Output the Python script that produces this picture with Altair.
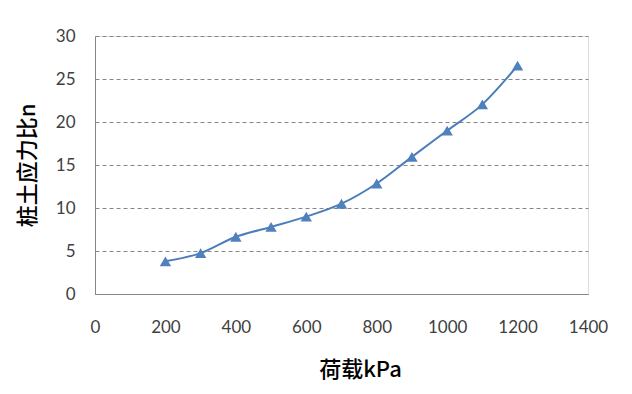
import altair as alt
import pandas as pd

loads = [200, 300, 400, 500, 600, 700, 800, 900, 1000, 1100, 1200]
ratio = [3.8, 4.75, 6.65, 7.8, 9.0, 10.5, 12.85, 15.95, 19.0, 22.05, 26.55]

df = pd.DataFrame({"load": loads, "n": ratio})

x = alt.X("load:Q", scale=alt.Scale(domain=[0, 1400], nice=False),
          axis=alt.Axis(values=list(range(0, 1401, 200)), format="d", title="荷载kPa", grid=False,
                        ticks=False, labelPadding=25, titlePadding=24, labelFlush=False,
                        labelFont="Lato", labelFontSize=17, labelColor="#404040",
                        titleFont="Noto Sans CJK SC", titleFontSize=22, titleFontWeight=500,
                        titleColor="#000000", domainColor="#868686", titleX=265))
y = alt.Y("n:Q", scale=alt.Scale(domain=[0, 30], nice=False),
          axis=alt.Axis(values=list(range(0, 31, 5)), title="桩土应力比n", grid=True,
                        gridDash=[4, 3], gridColor="#868686", ticks=False, labelPadding=20,
                        labelFlush=False,
                        labelFont="Lato", labelFontSize=17, labelColor="#404040",
                        titleFont="Noto Sans CJK SC", titleFontSize=22, titleFontWeight=500,
                        titleColor="#000000", titlePadding=16, domainColor="#868686"))

line = alt.Chart(df).mark_line(color="#4A7EBB", strokeWidth=2, interpolate="monotone").encode(x=x, y=y)
pts = alt.Chart(df).mark_point(shape="triangle-up", filled=True, color="#4F81BD", size=130, opacity=1).encode(x="load:Q", y="n:Q")

chart = (line + pts).properties(
    width=493, height=258,
    autosize=alt.AutoSizeParams(type="none"),
    padding={"left": 95, "top": 36, "right": 44, "bottom": 100},
).configure_view(stroke=None).configure(background="white")

chart.save("out.html", embed_options={"renderer": "svg", "actions": False})
